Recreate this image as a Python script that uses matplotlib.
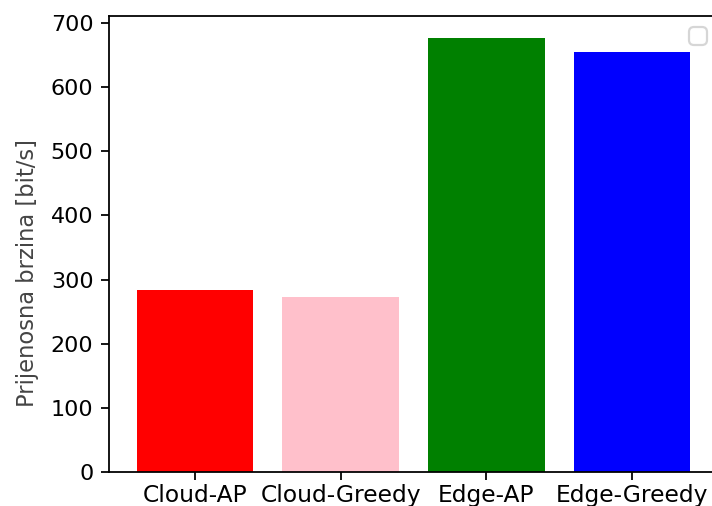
import matplotlib
matplotlib.use("Agg")
import matplotlib.pyplot as plt
import warnings

# ---------------------------------------------------------------- data
methods = ["Cloud-AP", "Cloud-Greedy", "Edge-AP", "Edge-Greedy"]
rates = [284, 273, 677, 654]          # bit/s
colors = ["red", "pink", "green", "blue"]

# ---------------------------------------------------------------- figure
DPI = 160
fig = plt.figure(figsize=(712 / DPI, 506 / DPI), dpi=DPI)
# axes run slightly past the right edge (reference image is cropped there)
ax = fig.add_axes([109 / 712, 34 / 506, 609 / 712, 456 / 506])

ax.bar(methods, rates, color=colors)
ax.tick_params(axis="x", pad=2.0, labelsize=10.5)
ax.set_ylabel("Prijenosna brzina [bit/s]", color="#444444", fontsize=10.2)
ax.yaxis.set_label_coords(-0.115, 0.436)

with warnings.catch_warnings():
    warnings.simplefilter("ignore")
    ax.legend(loc="upper right")   # no labelled artists -> empty legend frame

fig.savefig("out.png", dpi=DPI)
